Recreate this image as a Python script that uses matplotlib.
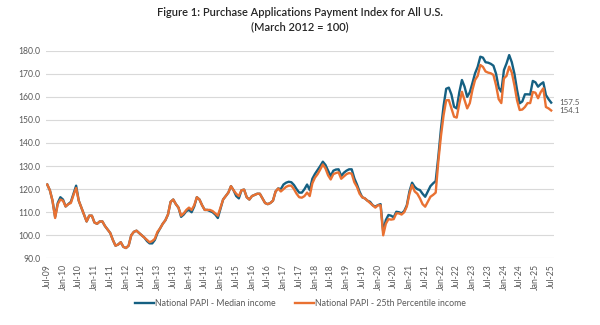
import numpy as np
import pandas as pd
import matplotlib
matplotlib.use("Agg")
import matplotlib.pyplot as plt

# ─────────────────────────────────────────────
# DATA (monthly, Jul-2009 .. Jul-2025)
# ─────────────────────────────────────────────
months = pd.date_range("2009-07-01", "2025-07-01", freq="MS")

median_income = [
    122.0, 119.5, 115.0, 108.0, 114.0, 116.5, 115.5, 112.5, 113.5, 114.5, 118.0, 121.5,  # Jul-09
    115.0, 112.0, 109.0, 106.0, 108.5, 108.5, 105.5, 105.0, 106.0, 106.0, 104.0, 102.5,  # Jul-10
    101.0, 98.0, 95.5, 96.0, 97.0, 95.0, 94.5, 95.5, 100.0, 101.5, 102.0, 101.0,         # Jul-11
    100.0, 99.0, 97.5, 96.5, 96.5, 98.0, 101.0, 103.0, 105.0, 106.5, 109.0, 114.5,       # Jul-12
    115.5, 113.5, 112.0, 108.0, 109.0, 110.5, 111.0, 110.0, 112.5, 116.5, 115.5, 113.0,  # Jul-13
    111.0, 111.0, 110.5, 110.0, 109.0, 107.5, 111.5, 115.5, 117.0, 118.5, 121.3, 119.5,  # Jul-14
    117.0, 116.0, 119.5, 119.8, 116.5, 115.5, 117.0, 117.5, 118.0, 118.0, 116.0, 114.0,  # Jul-15
    113.5, 114.0, 115.0, 119.0, 120.3, 120.0, 122.0, 122.8, 123.2, 123.0, 121.8, 120.0,  # Jul-16
    118.5, 118.5, 120.0, 122.0, 119.6, 124.5, 126.6, 128.3, 130.0, 131.9, 130.5, 128.0,  # Jul-17
    125.7, 128.0, 128.5, 128.6, 125.7, 127.1, 128.0, 128.6, 128.6, 124.7, 122.0, 118.9,  # Jul-18
    116.5, 116.0, 115.0, 114.5, 113.0, 112.4, 113.1, 113.5, 101.5, 106.6, 108.8, 108.5,  # Jul-19
    107.8, 110.2, 110.0, 109.5, 110.5, 113.0, 119.0, 122.8, 121.0, 120.0, 119.6, 118.0,  # Jul-20
    116.7, 119.0, 121.3, 122.5, 123.5, 134.0, 146.0, 156.0, 163.5, 164.0, 161.0, 155.7,  # Jul-21
    155.0, 162.0, 167.3, 164.4, 160.0, 162.0, 166.0, 170.2, 173.0, 177.4, 177.0, 175.0,  # Jul-22
    174.8, 174.3, 173.5, 170.0, 164.0, 162.2, 171.6, 174.5, 178.1, 175.0, 170.0, 163.0,  # Jul-23
    157.2, 158.0, 161.1, 161.1, 161.0, 166.9, 166.3, 164.4, 165.5, 166.3, 160.8, 159.0,  # Jul-24
    157.5,                                                                               # Jul-25
]

p25_income = [
    122.0, 119.5, 115.0, 107.5, 113.5, 115.5, 115.0, 112.5, 113.5, 114.0, 117.5, 120.5,  # Jul-09
    115.0, 112.0, 109.0, 106.0, 108.5, 108.5, 105.5, 105.0, 106.0, 106.0, 104.0, 102.5,  # Jul-10
    101.0, 98.0, 95.5, 96.0, 97.0, 95.0, 94.5, 95.5, 100.0, 101.5, 102.0, 101.0,         # Jul-11
    100.0, 99.0, 98.0, 97.0, 97.5, 98.5, 101.5, 103.0, 105.0, 106.5, 109.0, 114.5,       # Jul-12
    115.5, 113.5, 112.0, 108.5, 109.5, 111.0, 112.0, 111.0, 113.0, 116.5, 115.5, 113.0,  # Jul-13
    111.0, 111.0, 111.0, 110.5, 109.5, 108.5, 112.0, 115.5, 117.0, 118.5, 121.3, 119.5,  # Jul-14
    118.0, 117.0, 119.5, 119.8, 116.5, 115.5, 117.0, 117.5, 118.0, 118.0, 116.0, 114.0,  # Jul-15
    113.5, 114.0, 115.0, 119.0, 120.3, 119.0, 120.0, 121.0, 121.5, 121.5, 120.0, 118.0,  # Jul-16
    116.5, 116.3, 117.0, 118.5, 117.0, 122.5, 125.0, 126.5, 128.5, 130.7, 129.0, 126.0,  # Jul-17
    124.2, 126.5, 127.0, 127.3, 124.5, 125.5, 126.5, 127.0, 126.7, 123.0, 121.0, 118.0,  # Jul-18
    116.5, 116.0, 115.0, 114.0, 113.0, 112.0, 113.0, 113.0, 100.0, 105.0, 107.0, 106.8,  # Jul-19
    107.0, 109.5, 109.5, 109.0, 110.0, 112.5, 118.0, 121.8, 119.0, 118.0, 116.0, 113.5,  # Jul-20
    112.4, 114.5, 116.7, 117.5, 118.5, 132.0, 143.0, 152.0, 158.5, 158.6, 155.0, 151.4,  # Jul-21
    151.0, 157.0, 162.2, 158.6, 155.0, 157.3, 163.0, 167.3, 169.1, 173.8, 173.0, 171.0,  # Jul-22
    170.5, 170.2, 169.5, 165.0, 159.0, 157.3, 168.0, 169.1, 173.1, 170.5, 165.0, 158.5,  # Jul-23
    154.3, 154.5, 155.6, 157.3, 157.3, 162.1, 161.8, 159.4, 162.0, 163.7, 155.6, 155.0,  # Jul-24
    154.1,                                                                               # Jul-25
]

series_names = ["National PAPI - Median income", "National PAPI - 25th Percentile income"]
series_colors = ["#156082", "#E97132"]

TITLE = "Figure 1: Purchase Applications Payment Index for All U.S.\n(March 2012 = 100)"

# ─────────────────────────────────────────────
# PLOT
# ─────────────────────────────────────────────
plt.rcParams["font.family"] = ["Lato", "DejaVu Sans"]

fig = plt.figure(figsize=(6.0, 3.25), dpi=100)
ax = fig.add_axes([0.077, 0.205, 0.846, 0.639])

x = np.arange(len(months))
for vals, name, col in zip([median_income, p25_income], series_names, series_colors):
    ax.plot(x, vals, color=col, lw=1.7, label=name, solid_joinstyle="round")
    ax.annotate(f"{vals[-1]:.1f}", xy=(x[-1], vals[-1]), xytext=(6, 0),
                textcoords="offset points", va="center", ha="left",
                fontsize=5.8, color="#595959")

ax.set_xlim(-0.4, 193)
ax.set_ylim(90, 180)
ax.set_yticks(np.arange(90, 181, 10))
ax.set_yticklabels([f"{v:.1f}" for v in np.arange(90, 181, 10)])

tick_pos = x[::6]
ax.set_xticks(tick_pos)
ax.set_xticklabels([m.strftime("%b-%y") for m in months[::6]], rotation=90)

ax.grid(axis="y", color="#D9D9D9", lw=0.8)
ax.set_axisbelow(True)
for s in ax.spines.values():
    s.set_visible(False)
ax.tick_params(axis="both", length=0, labelsize=6.2, colors="#595959", pad=4)

fig.text(0.5, 0.94, TITLE, ha="center", va="center", fontsize=8,
         color="#262626", fontweight="semibold", linespacing=1.3)

fig.legend(loc="center", bbox_to_anchor=(0.5, 0.067), ncol=2, frameon=False,
           fontsize=6.3, handlelength=2.2, handletextpad=0.1, columnspacing=2.2,
           labelcolor="#595959")

fig.savefig("out.png", dpi=100, facecolor="white")
